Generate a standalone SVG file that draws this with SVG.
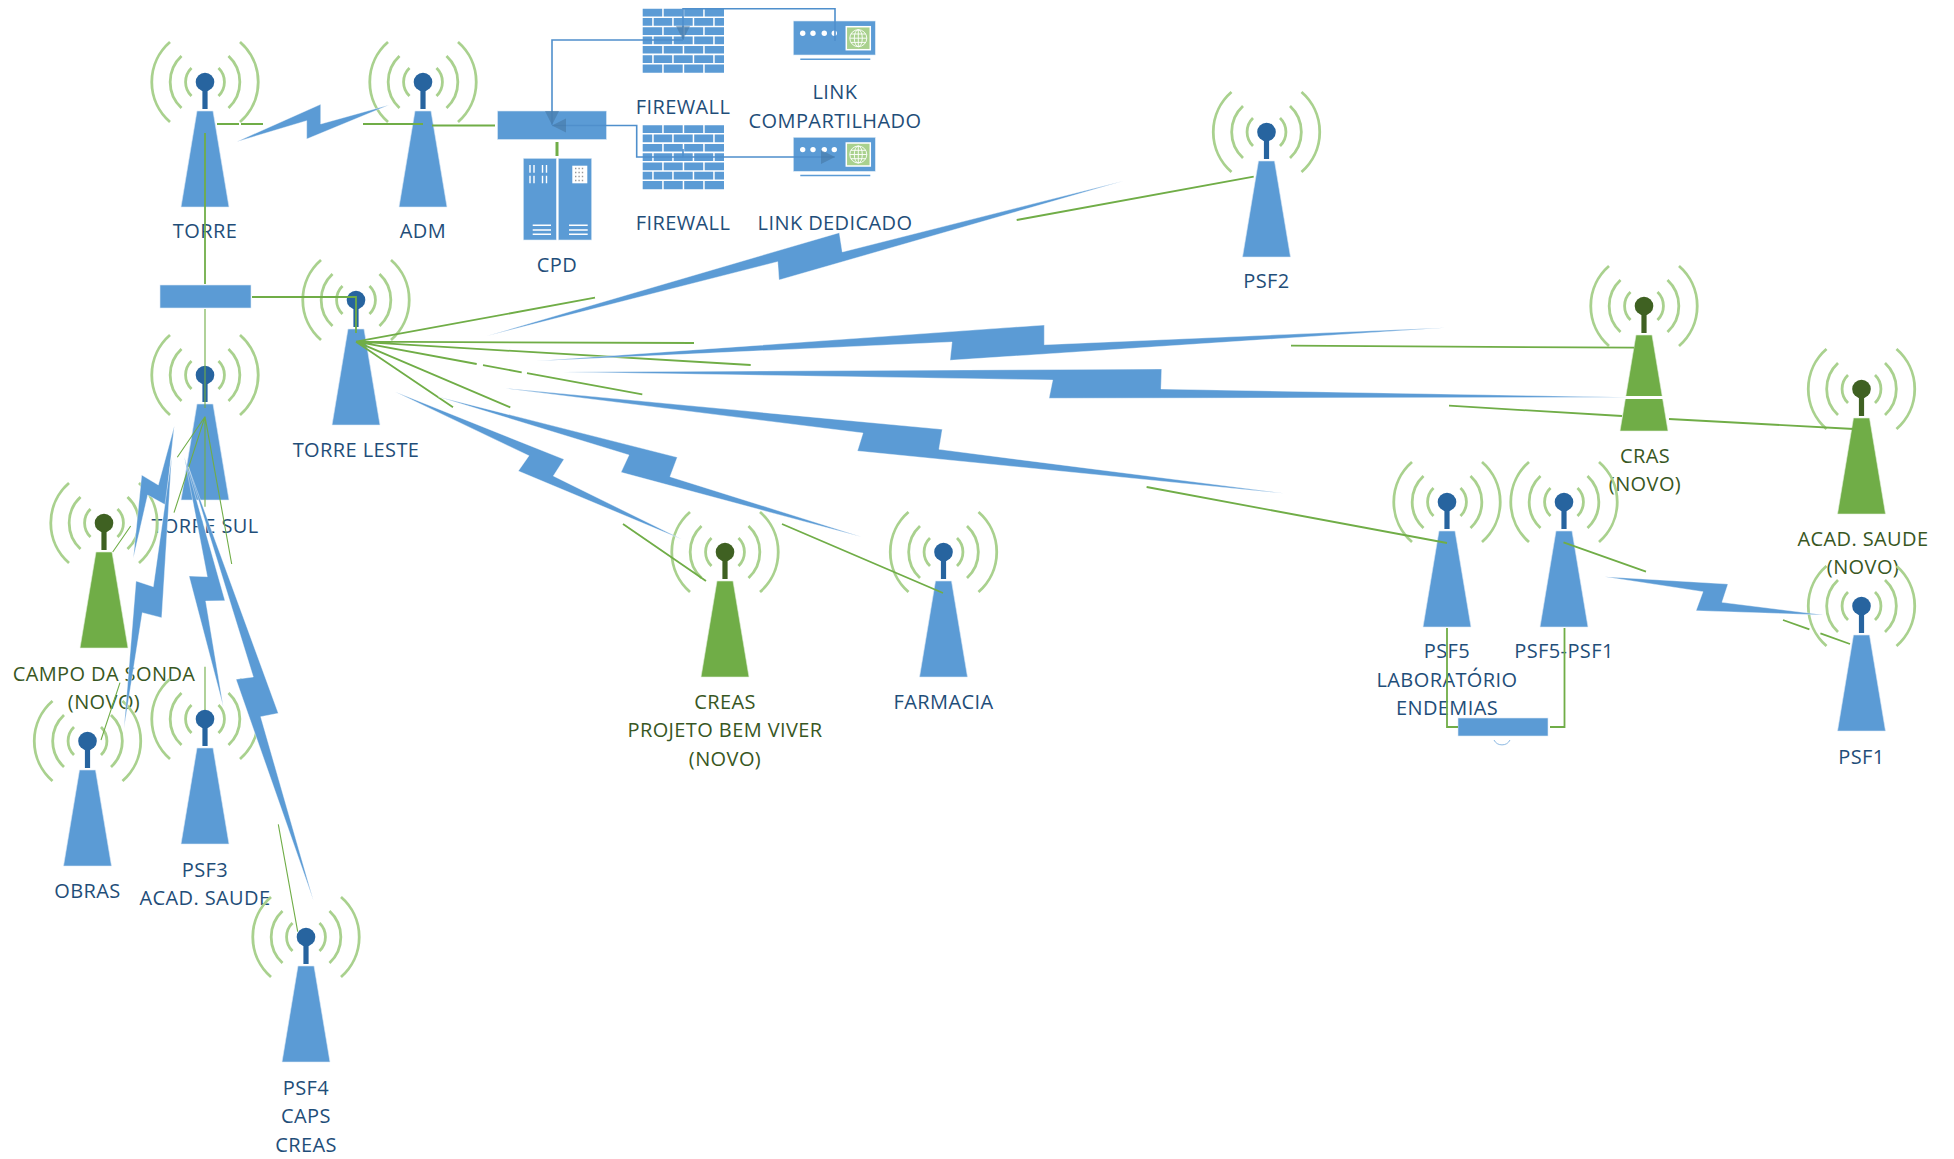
<svg xmlns="http://www.w3.org/2000/svg" xmlns:xlink="http://www.w3.org/1999/xlink" width="1954" height="1159" viewBox="0 0 1954 1159">
<style>
text{font-family:"Open Sans","Liberation Sans",sans-serif;font-size:20px;letter-spacing:.4px;text-anchor:middle}
.b text,text.b{fill:#1F4E79}
.g text{fill:#385723}
.arc{fill:none;stroke:#A9D18E;stroke-width:2.8}
.bluebody{fill:#5B9BD5;stroke:#DCE9F6;stroke-width:.6}
.box{fill:#5B9BD5;stroke:#DCE9F6;stroke-width:.6}
.bluehead{fill:#27649F}
.greenbody{fill:#70AD47;stroke:#E4F0DC;stroke-width:.6}
.greenhead{fill:#3F6122}
.bolt{fill:#5B9BD5;stroke:#fff;stroke-width:.4}
.gl{fill:none;stroke:#70AD47;stroke-width:1.8}
.gt{fill:none;stroke:#70AD47;stroke-width:1.1}
.bl{fill:none;stroke:#4F8FCC;stroke-width:1.6}
.white{fill:#fff}
.wl{stroke:#fff;stroke-width:1.4;fill:none}
</style>
<defs>
<g id="arcs">
<path class="arc" d="M-13.500-14A19.500 19.500 0 0 0-13.500 14M13.500-14A19.500 19.500 0 0 1 13.500 14M-23.500-26A35.500 35.500 0 0 0-23.500 26M23.500-26A35.500 35.500 0 0 1 23.500 26M-35-40A53 53 0 0 0-35 40M35-40A53 53 0 0 1 35 40"/>
</g>
<g id="tb">
<use href="#arcs"/>
<path class="bluehead" d="M-2.600 8H2.600V27H-2.600Z"/>
<circle class="bluehead" r="9.300"/>
<path class="bluebody" d="M-8 29H8L24 125H-24Z"/>
</g>
<g id="tg">
<use href="#arcs"/>
<path class="greenhead" d="M-2.600 8H2.600V27H-2.600Z"/>
<circle class="greenhead" r="9.300"/>
<path class="greenbody" d="M-8 29H8L24 125H-24Z"/>
</g>
<path id="fw" fill="#5B9BD5" d="M0 0h19.500v7.700H0zM21 0h19v7.700H21zM41.500 0h19v7.700H41.500zM62 0h19.300v7.700H62zM0 9.300h9.500v7.700H0zM11 9.300h18.500v7.700H11zM31 9.300h19v7.700H31zM51.500 9.300h19v7.700H51.500zM72 9.300h9.300v7.700H72zM0 18.600h19.500v7.700H0zM21 18.600h19v7.700H21zM41.500 18.600h19v7.700H41.500zM62 18.600h19.300v7.700H62zM0 27.900h9.500v7.700H0zM11 27.900h18.500v7.700H11zM31 27.900h19v7.700H31zM51.500 27.900h19v7.700H51.500zM72 27.900h9.300v7.700H72zM0 37.200h19.500v7.700H0zM21 37.200h19v7.700H21zM41.500 37.200h19v7.700H41.500zM62 37.200h19.300v7.700H62zM0 46.500h9.500v7.700H0zM11 46.500h18.500v7.700H11zM31 46.500h19v7.700H31zM51.500 46.500h19v7.700H51.500zM72 46.500h9.300v7.700H72zM0 55.800h19.500v8.200H0zM21 55.800h19v8.200H21zM41.500 55.800h19v8.200H41.500zM62 55.800h19.300v8.200H62z"/>
<g id="rt">
<rect class="box" x="0" y="0" width="82" height="34"/>
<path d="M7 38.300H77" stroke="#5B9BD5" stroke-width="1.500"/>
<g class="white"><circle cx="9.400" cy="12.300" r="2.700"/><circle cx="19.700" cy="12.300" r="2.700"/><circle cx="31" cy="12.300" r="2.700"/><circle cx="41" cy="12.300" r="2.700"/></g>
<rect x="53" y="5.700" width="24" height="23" fill="#A9D18E" stroke="#fff" stroke-width="1.500"/>
<g fill="none" stroke="#fff" stroke-width=".9"><circle cx="65" cy="17.200" r="8.500"/><ellipse cx="65" cy="17.200" rx="4" ry="8.500"/><path d="M65 8.700V25.700M56.500 17.200H73.500M57.500 13H72.500M57.500 21.400H72.500"/></g>
</g>
<marker id="ah" markerUnits="userSpaceOnUse" markerWidth="16" markerHeight="16" refX="14" refY="7" orient="auto"><path d="M0 0L14 7L0 14Z" fill="#41719C" fill-opacity=".5"/></marker>
</defs>

<g id="node-torre" class="b"><use href="#tb" x="205" y="82"/><text x="205" y="238">TORRE</text></g>
<g id="node-adm" class="b"><use href="#tb" x="423" y="82"/><text x="423" y="238">ADM</text></g>
<g id="node-torre-leste" class="b"><use href="#tb" x="356" y="300"/><text x="356" y="457">TORRE LESTE</text></g>
<g id="node-torre-sul" class="b"><use href="#tb" x="205" y="375"/><text x="205" y="533">TORRE SUL</text></g>
<g id="node-campo" class="g"><use href="#tg" x="104" y="523"/><text x="104" y="681">CAMPO DA SONDA</text><text x="104" y="709">(NOVO)</text></g>
<g id="node-obras" class="b"><use href="#tb" x="87.500" y="741"/><text x="87.500" y="898">OBRAS</text></g>
<g id="node-psf3" class="b"><use href="#tb" x="205" y="719"/><text x="205" y="877">PSF3</text><text x="205" y="905">ACAD. SAUDE</text></g>
<g id="node-psf4" class="b"><use href="#tb" x="306" y="937"/><text x="306" y="1095">PSF4</text><text x="306" y="1123">CAPS</text><text x="306" y="1152">CREAS</text></g>
<g id="node-creas" class="g"><use href="#tg" x="725" y="552"/><text x="725" y="709">CREAS</text><text x="725" y="737">PROJETO BEM VIVER</text><text x="725" y="766">(NOVO)</text></g>
<g id="node-farmacia" class="b"><use href="#tb" x="943.500" y="552"/><text x="943.500" y="709">FARMACIA</text></g>
<g id="node-psf2" class="b"><use href="#tb" x="1266.500" y="132"/><text x="1266.500" y="288">PSF2</text></g>
<g id="node-cras" class="g"><use href="#tg" x="1644" y="306"/><text x="1645" y="463">CRAS</text><text x="1645" y="491">(NOVO)</text></g>
<g id="node-acad" class="g"><use href="#tg" x="1861.500" y="389"/><text x="1863" y="546">ACAD. SAUDE</text><text x="1863" y="574">(NOVO)</text></g>
<g id="node-psf5" class="b"><use href="#tb" x="1447" y="502"/><text x="1447" y="658">PSF5</text><text x="1447" y="687">LABORATÓRIO</text><text x="1447" y="715">ENDEMIAS</text></g>
<g id="node-psf5-psf1" class="b"><use href="#tb" x="1564" y="502"/><text x="1564" y="658">PSF5-PSF1</text></g>
<g id="node-psf1" class="b"><use href="#tb" x="1861.500" y="606"/><text x="1861.500" y="764">PSF1</text></g>

<g id="node-switch-cpd"><rect class="box" x="497.500" y="111" width="109" height="28.500"/></g>
<g id="node-switch-torre"><rect class="box" x="160" y="285" width="91" height="23"/></g>
<g id="node-switch-psf5"><rect class="box" x="1458" y="718" width="90" height="18"/><path d="M1494 740A9 9 0 0 0 1510 740" fill="none" stroke="#5B9BD5" stroke-width=".7"/></g>

<g id="node-cpd" class="b">
<rect class="box" x="523.300" y="158.300" width="33" height="81.700"/>
<rect class="box" x="558.300" y="158.300" width="33.400" height="81.700"/>
<path class="wl" d="M530 165V172.700M534 165V172.700M542.500 165V172.700M546.500 165V172.700M530 175.700V183.300M534 175.700V183.300M542.500 175.700V183.300M546.500 175.700V183.300M532.700 225.300H551M532.700 230H551M532.700 234.300H551M569 225.300H587.700M569 230H587.700M569 234.300H587.700"/>
<rect class="white" x="572.300" y="165.700" width="15" height="17.600"/>
<path d="M575 168.500H585M575 172.500H585M575 176.500H585M575 180.500H585" stroke="#9a9a9a" stroke-width="1.400" stroke-dasharray="1.400 2"/>
<text x="557" y="272">CPD</text>
</g>
<g id="node-fw1" class="b"><use href="#fw" x="642.700" y="8.700"/><text x="683" y="114">FIREWALL</text></g>
<g id="node-fw2" class="b"><use href="#fw" x="642.700" y="125.300"/><text x="683" y="230">FIREWALL</text></g>
<g id="node-link1" class="b"><use href="#rt" x="793.300" y="21"/><text x="835" y="99">LINK</text><text x="835" y="128">COMPARTILHADO</text></g>
<g id="node-link2" class="b"><use href="#rt" x="793.300" y="137.300"/><text x="835" y="230">LINK DEDICADO</text></g>

<g id="connectors">
<path class="bl" marker-end="url(#ah)" d="M835 41V8.700H683V40"/>
<path class="bl" marker-end="url(#ah)" d="M683 40H552V125"/>
<path class="bl" marker-end="url(#ah)" d="M683 157H636.700V125.500H552"/>
<path class="bl" marker-end="url(#ah)" d="M683 149V157H835"/>
<path class="gl" d="M217 124H239M241 124H263M363 124H423M432 125.500H495M252 297H356V333"/>
<path class="gl" style="stroke-width:3" d="M557 142V156"/>
<path class="gl" d="M205 133V284"/>
<path class="gt" d="M205 309V408M205 416.700L177.300 457.300M205 416.700L174 512.700M205 416.700V506.700M205 416.700L231.700 564M112.700 552L130.700 526M120 682.700L101 740M205 666.700V710M278.300 824.300L297.700 931.700"/>
<path class="gl" d="M356 341.700L595 297.700M356 341.700L694 343M356 341.700L750.700 365M356 341.700L476.700 364M483 365.200L521.700 372.300M527 373.200L642.300 394.300M356 341.700L510.300 407.300M356 341.700L453 407.300"/>
<path class="gl" d="M1016.700 220L1253.700 176.700M1291 345.700L1634 347.700M1449 405.700L1622 416M1669 419L1854 429M623 524L706 581M782 524L943 593M1146.600 487L1447 543M1563.500 542.300L1646 571.700M1783 620L1809.400 629.300M1820.400 633.300L1850 644M1447 628V727H1458M1564.500 628V727H1550"/>
<polygon class="bolt" points="236.700,141.700 320.700,104.300 320.700,124 389,105 306.700,139 306.700,120.700"/>
<polygon class="bolt" points="486.700,336 839.300,232.700 842.300,252 1123.300,181 779,280 777.700,261.700"/>
<polygon class="bolt" points="536.700,361 1044.300,325 1044.300,344.700 1445,327.700 950,360.300 952,342"/>
<path d="M1614 397.500H1674" stroke="#fff" stroke-width="3"/>
<polygon class="bolt" points="563,372 1161.700,369 1161,389 1628,397.300 1049,398.300 1052.700,380"/>
<polygon class="bolt" points="505,388.300 942.300,429.300 939,449.300 1283.500,493.300 857.400,451 863,433"/>
<polygon class="bolt" points="395,391.700 564,459.300 553.300,476 681.700,539.300 518.300,471 529,455.700"/>
<polygon class="bolt" points="438.300,396.700 677.300,457.300 670,476.700 862,537 621,472.300 629,455"/>
<polygon class="bolt" points="1604.700,576.700 1728,584 1722,602.300 1824,615 1696,610.700 1703,591.700"/>
<polygon class="bolt" points="174.300,426 158.300,485 141.700,475 133.300,558.300 147.700,495 165.700,505"/>
<polygon class="bolt" points="171.700,456.700 153.300,586.700 136,581 124,728.300 142.300,612.700 161.700,617.700"/>
<polygon class="bolt" points="184.300,456.700 225,600.700 205.700,601 223.300,706.700 189,576 207.300,576.700"/>
<polygon class="bolt" points="188.300,466.700 278.300,713.300 260.700,716.700 313.300,900 236,679.300 253.300,677"/>
</g>
</svg>
